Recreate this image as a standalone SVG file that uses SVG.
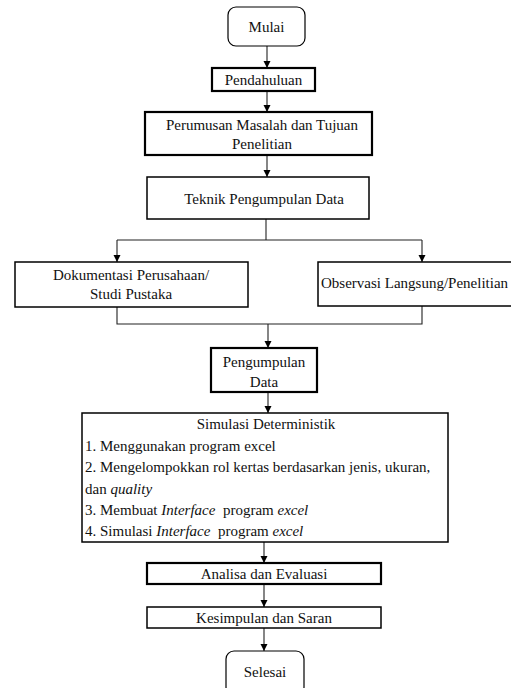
<svg xmlns="http://www.w3.org/2000/svg" width="511" height="688" viewBox="0 0 511 688" font-family="'Liberation Serif', 'DejaVu Serif', serif">
<style>
  .box{fill:#fff;stroke:#000;stroke-width:1.5}
  .thick{stroke-width:2.2}
  .thin{stroke-width:1.2}
  text{font-family:'Liberation Serif','DejaVu Serif',serif;font-size:15px;fill:#111}
  .c{text-anchor:middle}
  .i{font-style:italic}
  .conn{fill:none;stroke:#222;stroke-width:1.1}
</style>
<defs>
  <marker id="ah" viewBox="0 0 10 10" refX="10" refY="5" markerWidth="7" markerHeight="8" markerUnits="userSpaceOnUse" orient="auto">
    <path d="M0,0 L10,5 L0,10 z" fill="#000"/>
  </marker>
</defs>
<g id="connectors">
  <line class="conn" x1="267" y1="46" x2="267" y2="68" marker-end="url(#ah)"/>
  <line class="conn" x1="267" y1="91" x2="267" y2="112" marker-end="url(#ah)"/>
  <line class="conn" x1="267" y1="155" x2="267" y2="177" marker-end="url(#ah)"/>
  <polyline class="conn" points="266,219 266,240"/>
  <polyline class="conn" points="117,240 422,240"/>
  <line class="conn" x1="117" y1="240" x2="117" y2="262" marker-end="url(#ah)"/>
  <line class="conn" x1="422" y1="240" x2="422" y2="262" marker-end="url(#ah)"/>
  <polyline class="conn" points="117,307 117,324 422,324 422,306"/>
  <line class="conn" x1="268" y1="324" x2="268" y2="348" marker-end="url(#ah)"/>
  <line class="conn" x1="268" y1="392" x2="268" y2="413" marker-end="url(#ah)"/>
  <line class="conn" x1="264" y1="542" x2="264" y2="563" marker-end="url(#ah)"/>
  <line class="conn" x1="264" y1="584" x2="264" y2="607" marker-end="url(#ah)"/>
  <line class="conn" x1="264" y1="628" x2="264" y2="651" marker-end="url(#ah)"/>
</g>
<g id="mulai">
  <rect class="box thin" x="228" y="7" width="77" height="39" rx="8"/>
  <text class="c" x="266.5" y="32">Mulai</text>
</g>
<g id="pendahuluan">
  <rect class="box thick" x="212" y="68" width="103" height="23"/>
  <text class="c" x="263.5" y="85">Pendahuluan</text>
</g>
<g id="perumusan">
  <rect class="box thick" x="145" y="112" width="227" height="43"/>
  <text class="c" x="262" y="130">Perumusan Masalah dan Tujuan</text>
  <text class="c" x="262" y="149">Penelitian</text>
</g>
<g id="teknik">
  <rect class="box" x="147" y="177" width="222" height="42"/>
  <text class="c" x="264" y="204">Teknik Pengumpulan Data</text>
</g>
<g id="dokumentasi">
  <rect class="box" x="15" y="262" width="233" height="45"/>
  <text class="c" x="131" y="280">Dokumentasi Perusahaan/</text>
  <text class="c" x="131" y="299">Studi Pustaka</text>
</g>
<g id="observasi">
  <rect class="box" x="318" y="262" width="205" height="44"/>
  <text x="321" y="288">Observasi Langsung/Penelitian</text>
</g>
<g id="pengumpulan">
  <rect class="box thick" x="211" y="348" width="106" height="44"/>
  <text class="c" x="264" y="367">Pengumpulan</text>
  <text class="c" x="264" y="387">Data</text>
</g>
<g id="simulasi">
  <rect class="box" x="82" y="413" width="366" height="129"/>
  <text class="c" x="266" y="429">Simulasi Deterministik</text>
  <text x="85" y="451">1. Menggunakan program excel</text>
  <text x="85" y="472">2. Mengelompokkan rol kertas berdasarkan jenis, ukuran,</text>
  <text x="85" y="494">dan <tspan class="i">quality</tspan></text>
  <text x="85" y="515" xml:space="preserve">3. Membuat <tspan class="i">Interface</tspan>  program <tspan class="i">excel</tspan></text>
  <text x="85" y="536" xml:space="preserve">4. Simulasi <tspan class="i">Interface</tspan>  program <tspan class="i">excel</tspan></text>
</g>
<g id="analisa">
  <rect class="box thick" x="147" y="563" width="234" height="21"/>
  <text class="c" x="264" y="579">Analisa dan Evaluasi</text>
</g>
<g id="kesimpulan">
  <rect class="box" x="147" y="607" width="234" height="21"/>
  <text class="c" x="264" y="623">Kesimpulan dan Saran</text>
</g>
<g id="selesai">
  <rect class="box thin" x="226" y="651" width="78" height="44" rx="8"/>
  <text class="c" x="265" y="677">Selesai</text>
</g>
</svg>
